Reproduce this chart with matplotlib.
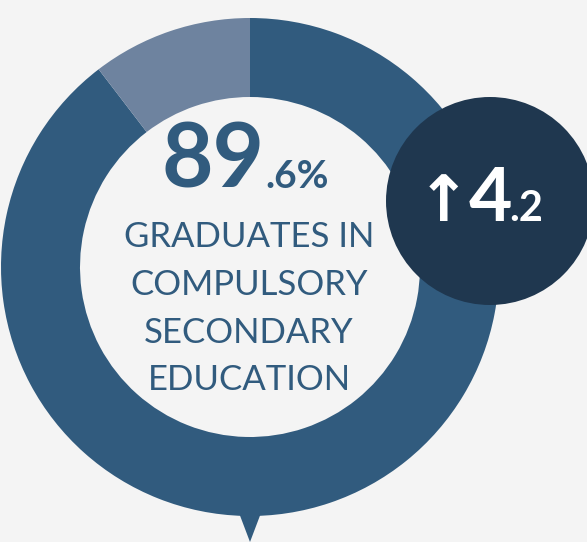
import matplotlib.pyplot as plt
from matplotlib.patches import Circle, Polygon

# share of graduates (%) and the rest
shares = [89.6, 100 - 89.6]
ring_colors = ["#315b7e", "#6e839f"]
main_int = "89"
main_dec = ".6%"
label_lines = ["GRADUATES IN", "COMPULSORY", "SECONDARY", "EDUCATION"]
change_int = "4"
change_dec = ".2"

bg = "#f4f4f4"
navy = "#1f374f"
text_blue = "#315b7e"

W, H = 587, 542
fig = plt.figure(figsize=(W / 100, H / 100), dpi=100, facecolor=bg)
ax = fig.add_axes([0, 0, 1, 1])

cx, cy = 250, H - 267

# pointer under the ring
ax.add_patch(Polygon([(236, H - 505), (264, H - 505), (250, 0)],
                     closed=True, facecolor=ring_colors[0], edgecolor="none"))

ax.pie(shares, colors=ring_colors, startangle=90, counterclock=False,
       radius=249, center=(cx, cy), frame=True,
       wedgeprops=dict(width=79, edgecolor="none", linewidth=0))
ax.set_xlim(0, W)
ax.set_ylim(0, H)
ax.set_aspect("equal")
ax.axis("off")

# big number in the middle
ax.text(265, H - 188, main_int, ha="right", va="baseline", fontsize=64,
        fontweight="bold", family="Lato", color=text_blue)
ax.text(265, H - 188, main_dec, ha="left", va="baseline", fontsize=28,
        fontweight="bold", family="Lato", color=text_blue)

baselines = [247, 295, 343, 390]
for line, b in zip(label_lines, baselines):
    ax.text(249, H - b, line, ha="center", va="baseline", fontsize=25,
            family="Lato", color=text_blue)

# change badge
ax.add_patch(Circle((490, H - 201), 104, facecolor=navy, edgecolor="none"))
ax.text(443, H - 221, "\u2191", ha="center", va="baseline", fontsize=46,
        fontweight="bold", family=["DejaVu Sans"], color="white")
ax.text(490, H - 221, change_int, ha="center", va="baseline", fontsize=54,
        fontweight="bold", family="Lato", color="white")
ax.text(509, H - 221, change_dec, ha="left", va="baseline", fontsize=30,
        fontweight="bold", family="Lato", color="white")

fig.savefig("out.png", dpi=100, facecolor=bg)
